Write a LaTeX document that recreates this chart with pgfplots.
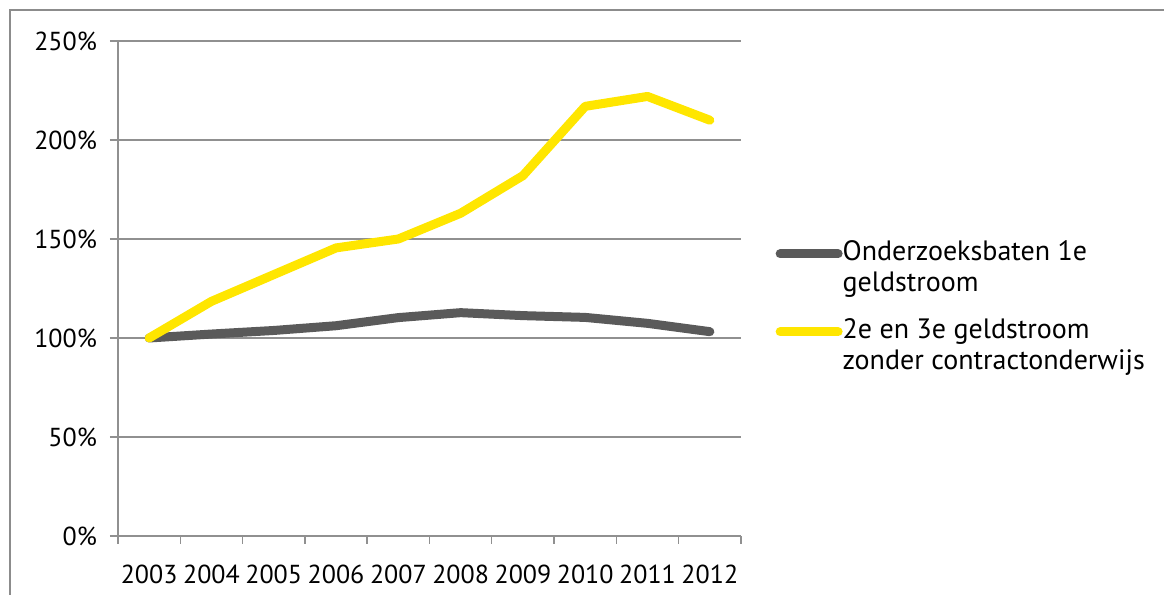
\documentclass[border=0pt]{standalone}
\usepackage{pgfplots}
\pgfplotsset{compat=1.18}
\usetikzlibrary{calc}
\usepackage{fontspec}
\setmainfont{PT Sans}
\definecolor{eygray}{HTML}{5A5A5A}
\definecolor{eyyellow}{HTML}{FFE600}
\definecolor{framegray}{HTML}{8C8C8C}
\definecolor{gridgray}{HTML}{909090}
\begin{document}
\begin{tikzpicture}[x=0.5pt,y=0.5pt]
\begin{axis}[
    name=ax,
    scale only axis, width=311.5pt, height=247.5pt,
    xmin=-0.5, xmax=9.5, ymin=0, ymax=250,
    xtick={0,...,9},
    xticklabels={2003,2004,2005,2006,2007,2008,2009,2010,2011,2012},
    major x tick style={draw=none},
    minor xtick={-0.5,0.5,...,9.5},
    ytick={0,50,...,250},
    yticklabel={\pgfmathprintnumber{\tick}\%},
    /pgf/number format/assume math mode=true,
    ymajorgrids, grid style={gridgray, line width=0.7pt},
    axis lines*=left, axis line style={gridgray, line width=0.7pt},
    tick style={gridgray, line width=0.7pt},
    tick align=outside, major tick length=4pt, minor tick length=4pt,
    ticklabel style={font=\fontsize{13}{15}\selectfont, black},
    xticklabel style={yshift=-7pt},
    yticklabel style={xshift=-3pt},
    legend style={at={(1.055,0.605)}, anchor=north west, draw=none, fill=none,
        inner sep=0pt, row sep=8pt,
        nodes={align=left, font=\fontsize{14}{15.5}\selectfont, inner xsep=0pt}},
    legend cell align=left,
    legend image code/.code={\draw[#1] (0pt,7pt) -- (29pt,7pt);},
]
\addplot[eygray, line width=4.5pt, line cap=round, line join=round] coordinates {
    (0,100) (1,102) (2,103.8) (3,106.2) (4,110.3) (5,112.8)
    (6,111.3) (7,110.4) (8,107.4) (9,103.2)
};
\addlegendentry{Onderzoeksbaten 1e\\geldstroom}
\addplot[eyyellow, line width=4.5pt, line cap=round, line join=round] coordinates {
    (0,100) (1,118.5) (2,132) (3,145.5) (4,150) (5,163)
    (6,182) (7,217) (8,222) (9,210)
};
\addlegendentry{2e en 3e geldstroom\\zonder contractonderwijs}
\end{axis}
\pgfresetboundingbox
\coordinate (o) at ($(ax.south west)+(-118,-59)$);
\path[use as bounding box] (o) rectangle ($(o)+(1164,595)$);
\draw[framegray, line width=1pt] ($(o)+(10,-5)$) -- ($(o)+(10,585)$) -- ($(o)+(1170,585)$);
\end{tikzpicture}
\end{document}
